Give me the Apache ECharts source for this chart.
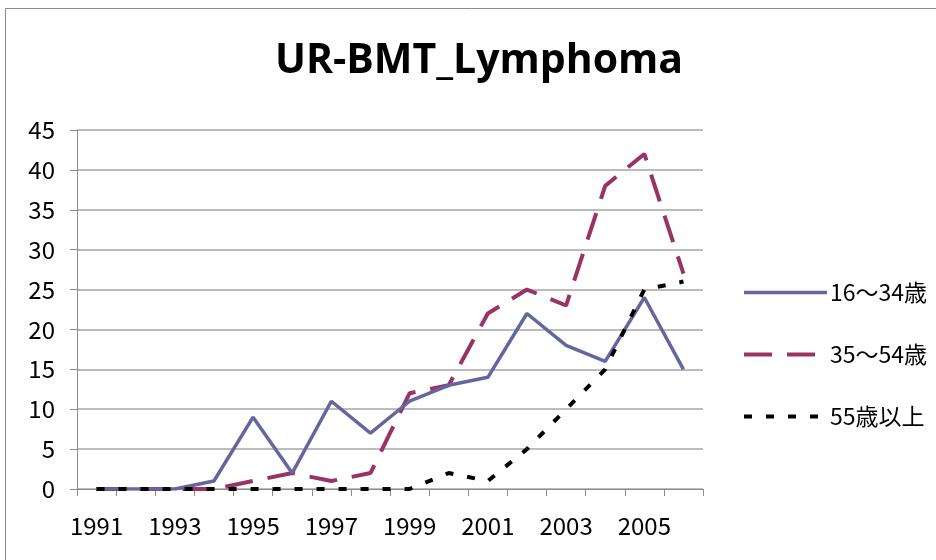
<!DOCTYPE html>
<html><head><meta charset="utf-8">
<script src="https://cdn.jsdelivr.net/npm/echarts@6/dist/echarts.min.js"></script>
<style>html,body{margin:0;padding:0;background:#fff}#c{width:936px;height:560px}</style>
</head><body><div id="c"></div>
<script>
const years = ['1991','1992','1993','1994','1995','1996','1997','1998','1999','2000','2001','2002','2003','2004','2005','2006'];
const age16_34 = [0,0,0,1,9,2,11,7,11,13,14,22,18,16,24,15];
const age35_54 = [0,0,0,0,1,2,1,2,12,13,22,25,23,38,42,27];
const age55up  = [0,0,0,0,0,0,0,0,0,2,1,5,10,15,25,26];
const seriesNames = ['16～34歳','35～54歳','55歳以上'];
const yTicks = [0,5,10,15,20,25,30,35,40,45];

const font = '"Noto Sans CJK JP", "DejaVu Sans", sans-serif';
const styles = [
  {color:'#6466a0', width:3.5, type:'solid'},
  {color:'#993366', width:4, type:[28,15]},
  {color:'#000000', width:4, type:[8,14]}
];
const chart = echarts.init(document.getElementById('c'), null, {renderer:'canvas'});
chart.setOption({
  animation:false,
  backgroundColor:'#fff',
  title:{text:'UR-BMT_Lymphoma', left:474, top:36, textAlign:'center',
    textStyle:{fontFamily:'"Open Sans", sans-serif', fontWeight:'bold', fontSize:41, color:'#000'}},
  graphic:[{type:'rect', shape:{x:5.5,y:8.5,width:1000,height:1000}, style:{fill:'none', stroke:'#8c8c8c', lineWidth:1}, silent:true}],
  grid:{left:77, right:233, top:130, bottom:71, containLabel:false},
  legend:{orient:'vertical', left:742, top:281, itemWidth:83, itemHeight:14, itemGap:39,
    padding:0,
    itemStyle:{opacity:0},
    textStyle:{fontFamily:font, fontSize:23, color:'#000', padding:[0,0,0,-2]},
    data:seriesNames.map((n,i)=>({name:n, lineStyle:{width:styles[i].width, color:styles[i].color, type:styles[i].type, cap:'butt'}}))},
  xAxis:{type:'category', data:years, boundaryGap:true,
    axisLine:{lineStyle:{color:'#8c8c8c', width:1}},
    axisTick:{show:true, interval:0, length:7, lineStyle:{color:'#8c8c8c'}},
    axisLabel:{interval:1, fontFamily:font, fontSize:24, color:'#000', margin:25}},
  yAxis:{type:'value', min:yTicks[0], max:yTicks[yTicks.length-1], interval:5,
    axisLine:{show:true, lineStyle:{color:'#8c8c8c', width:1}},
    axisTick:{show:true, length:7, lineStyle:{color:'#8c8c8c'}},
    splitLine:{lineStyle:{color:'#a6a6a6', width:1.5}},
    axisLabel:{fontFamily:font, fontSize:24, color:'#000', margin:22}},
  series:[
    {name:seriesNames[0], type:'line', data:age16_34, symbol:'none', z:3,
      lineStyle:{color:styles[0].color, width:styles[0].width}, itemStyle:{color:styles[0].color}},
    {name:seriesNames[1], type:'line', data:age35_54, symbol:'none', z:2,
      lineStyle:{color:styles[1].color, width:styles[1].width, type:styles[1].type, cap:'butt'}, itemStyle:{color:styles[1].color}},
    {name:seriesNames[2], type:'line', data:age55up, symbol:'none', z:4,
      lineStyle:{color:styles[2].color, width:styles[2].width, type:styles[2].type, cap:'butt'}, itemStyle:{color:styles[2].color}}
  ]
});
</script></body></html>
